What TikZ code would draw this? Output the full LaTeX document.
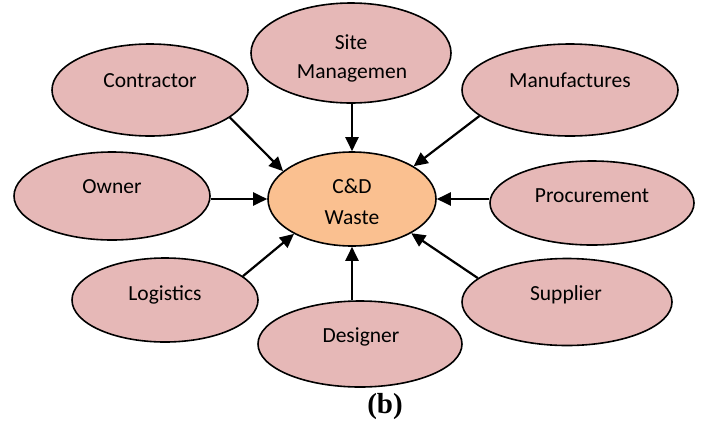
\documentclass[tikz,border=0pt]{standalone}
\usepackage{fontspec}
\setmainfont{Carlito}
\newfontfamily\capfont{Liberation Serif}
\usetikzlibrary{arrows.meta,shapes.geometric}
\definecolor{pinkfill}{RGB}{230,184,183}
\definecolor{orangefill}{RGB}{250,192,144}
\tikzset{
  bubble/.style={ellipse, draw=black, line width=1.6pt, fill=pinkfill, inner sep=0pt},
  core/.style={bubble, fill=orangefill},
  lbl/.style={anchor=base, inner sep=0pt, font=\fontsize{21.5}{26}\selectfont, text=black},
  arr/.style={line width=2.2pt, -{Triangle[length=14pt,width=13pt]}},
}
\begin{document}
\begin{tikzpicture}[x=1pt,y=-1pt]
\fill[white] (0,0) rectangle (702,421);
\useasboundingbox (0,0) rectangle (702,421);
% ellipses
\node[bubble, minimum width=196pt, minimum height=92pt] (contractor) at (150,90) {};
\node[bubble, minimum width=200pt, minimum height=100pt] (site) at (351,53) {};
\node[bubble, minimum width=216pt, minimum height=92pt] (manuf) at (570,90) {};
\node[bubble, minimum width=196pt, minimum height=88pt] (owner) at (112,196) {};
\node[core, minimum width=168pt, minimum height=94pt] (cd) at (352,199) {};
\node[bubble, minimum width=204pt, minimum height=84pt] (proc) at (592,203) {};
\node[bubble, minimum width=186pt, minimum height=84pt] (logistics) at (165,300) {};
\node[bubble, minimum width=204pt, minimum height=86pt] (designer) at (360,344) {};
\node[bubble, minimum width=210pt, minimum height=87pt] (supplier) at (567,302) {};
% labels
\node[lbl] (tcontractor) at (150,87) {Contractor};
\node[lbl] (tsite1) at (351,49) {Site};
\node[lbl] (tsite2) at (352,78) {Managemen};
\node[lbl] (tmanuf) at (570,87) {Manufactures};
\node[lbl] (towner) at (112,193) {Owner};
\node[lbl] (tcd1) at (352,193) {C\&D};
\node[lbl] (tcd2) at (352,224) {Waste};
\node[lbl] (tproc) at (592,202) {Procurement};
\node[lbl] (tlogistics) at (165,300) {Logistics};
\node[lbl] (tdesigner) at (361,342) {Designer};
\node[lbl] (tsupplier) at (566,300) {Supplier};
\node[anchor=base, inner sep=0pt, font=\capfont\bfseries\fontsize{29}{34}\selectfont] (caption) at (385,413) {(b)};
% arrows
\draw[arr] (site.south -| cd.north) -- (cd.north);
\draw[arr] (contractor.-19) -- (cd.158);
\draw[arr] (manuf.-164) -- (cd.28);
\draw[arr] (owner.east |- cd.west) -- (cd.west);
\draw[arr] (proc.west |- cd.east) -- (cd.east);
\draw[arr] (logistics.17) -- (cd.-149);
\draw[arr] (supplier.165) -- (cd.-30);
\draw[arr] (designer.north -| cd.south) -- (cd.south);
\end{tikzpicture}
\end{document}
